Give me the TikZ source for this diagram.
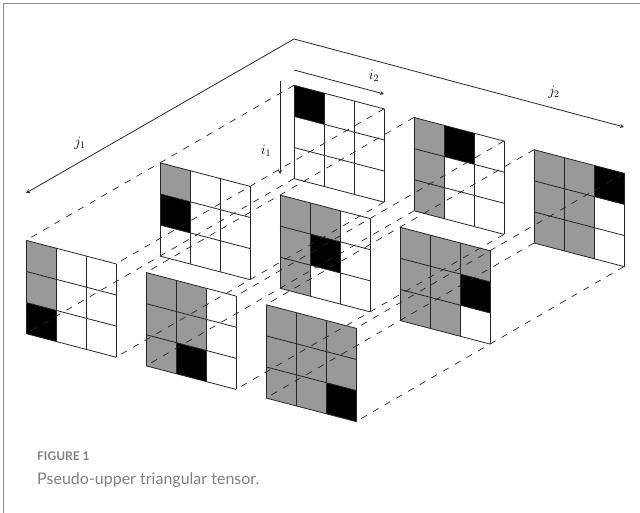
\documentclass[tikz,border=0pt]{standalone}
\usepackage{fontspec}
\newfontfamily\capfont{Lato}
\definecolor{cellgray}{HTML}{999999}
\definecolor{framegray}{HTML}{8C8C8C}
\definecolor{capgray}{HTML}{7F7F7F}
\begin{document}
\begin{tikzpicture}[
    x=1pt, y=-1pt,
    >=stealth,
    cellline/.style={draw=black!85, line width=0.8pt},
    tie/.style={draw=black!85, line width=0.7pt, dash pattern=on 6.5pt off 7pt},
    axis/.style={->, draw=black!85, line width=0.8pt},
    axislabel/.style={font=\Large, inner sep=0pt},
    capline/.style={anchor=base west, inner sep=0pt, text=capgray},
]
    \useasboundingbox (0,0) rectangle (640,513);

    % Frame, open on the right and below
    \coordinate (framebl) at (3.5,513);
    \coordinate (frametl) at (3.5,3.5);
    \coordinate (frametr) at (640,3.5);
    \draw[framegray, line width=1.3pt] (framebl) -- (frametl) -- (frametr);

    % Sheets: j2 grows to the lower right, j1 to the lower left
    \foreach \jb in {0,1,2} {
        \foreach \ja in {0,1,2} {
            \begin{scope}[shift={({294+120*\jb-134*\ja},{85.3+32.2*\jb+77.5*\ja})}, x={(30pt,-7.85pt)}, y={(0pt,-31.1pt)}]
                \coordinate (tl\ja\jb) at (0,0);
                \coordinate (tr\ja\jb) at (3,0);
                \coordinate (bl\ja\jb) at (0,3);
                \coordinate (br\ja\jb) at (3,3);
                \fill[white] (tl\ja\jb) -- (tr\ja\jb) -- (br\ja\jb) -- (bl\ja\jb) -- cycle;
                \fill[cellgray] (0,0) -- (\jb,0) -- (\jb,3) -- (0,3) -- cycle;
                \fill[cellgray] (\jb,0) -- (\jb+1,0) -- (\jb+1,\ja) -- (\jb,\ja) -- cycle;
                \fill[black] (\jb,\ja) -- (\jb+1,\ja) -- (\jb+1,\ja+1) -- (\jb,\ja+1) -- cycle;
                \foreach \k in {0,1,2,3} {
                    \draw[cellline] (\k,0) -- (\k,3);
                    \draw[cellline] (0,\k) -- (3,\k);
                }
            \end{scope}
        }
    }

    % Dashed lines through the sheet corners
    \foreach \jb in {0,1,2} {
        \foreach \corner in {tl,tr,bl,br} {
            \draw[tie] (\corner0\jb) -- (\corner2\jb);
        }
    }

    % Axes
    \coordinate (apex) at (294,39);
    \coordinate (jaend) at (26,193);
    \coordinate (jbend) at (624,127);
    \coordinate (ibstart) at (294,70);
    \coordinate (ibend) at (384,94);
    \coordinate (iastart) at (280,81);
    \coordinate (iaend) at (280,174);
    \draw[axis] (apex) -- (jaend);
    \draw[axis] (apex) -- (jbend);
    \draw[axis] (ibstart) -- (ibend);
    \draw[axis] (iastart) -- (iaend);

    \node[axislabel] (jalabel) at (80,143) {$j_1$};
    \node[axislabel] (jblabel) at (554,92) {$j_2$};
    \node[axislabel] (ialabel) at (266,151) {$i_1$};
    \node[axislabel] (iblabel) at (374,76) {$i_2$};

    % Caption
    \node[capline, font={\capfont\bfseries\fontsize{12}{14}\selectfont}] (figlabel) at (37,460) {FIGURE 1};
    \node[capline, font={\capfont\fontsize{16}{19}\selectfont}] (figcaption) at (37,484) {Pseudo-upper triangular tensor.};
\end{tikzpicture}
\end{document}
